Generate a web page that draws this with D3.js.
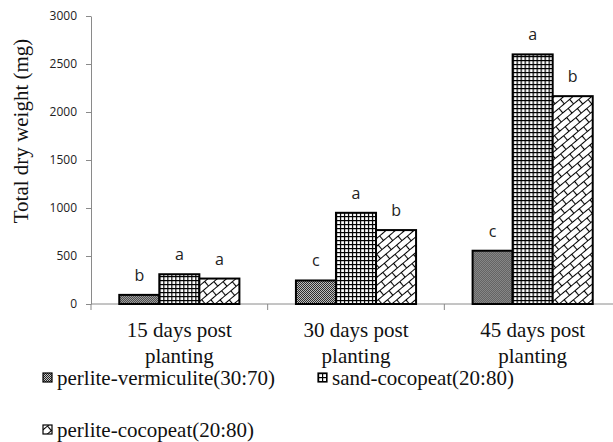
<!DOCTYPE html>
<html>
<head>
<meta charset="utf-8">
<script src="https://cdn.jsdelivr.net/npm/d3@7"></script>
</head>
<body style="margin:0">
<svg id="chart" width="613" height="442"></svg>
<script>
// data
let categories = ["15 days post planting", "30 days post planting", "45 days post planting"]
let catLines = [["15 days post", "planting"], ["30 days post", "planting"], ["45 days post", "planting"]]
let series = ["perlite-vermiculite(30:70)", "sand-cocopeat(20:80)", "perlite-cocopeat(20:80)"]
let values = [
  [95, 245, 555],    // perlite-vermiculite
  [310, 950, 2600],  // sand-cocopeat
  [265, 770, 2165]   // perlite-cocopeat
]
let letters = [
  ["b", "c", "c"],
  ["a", "a", "a"],
  ["a", "b", "b"]
]
let yTicks = [0, 500, 1000, 1500, 2000, 2500, 3000]

let serif = '"Liberation Serif"'
let sans = '"Open Sans"'

let svg = d3.select("#chart")
let defs = svg.append("defs")

// fill patterns
let p1 = defs.append("pattern").attr("id", "pat0")
  .attr("patternUnits", "userSpaceOnUse").attr("width", 2).attr("height", 2)
p1.append("rect").attr("width", 2).attr("height", 2).attr("fill", "#c8c8c8")
p1.append("rect").attr("width", 1).attr("height", 1).attr("fill", "#222")
p1.append("rect").attr("x", 1).attr("y", 1).attr("width", 1).attr("height", 1).attr("fill", "#222")

let p2 = defs.append("pattern").attr("id", "pat1")
  .attr("patternUnits", "userSpaceOnUse").attr("width", 4).attr("height", 4)
p2.append("rect").attr("width", 4).attr("height", 4).attr("fill", "#fff")
p2.append("rect").attr("width", 1.2).attr("height", 4).attr("fill", "#000")
p2.append("rect").attr("width", 4).attr("height", 1.2).attr("fill", "#000")

let p3 = defs.append("pattern").attr("id", "pat2")
  .attr("patternUnits", "userSpaceOnUse").attr("width", 14).attr("height", 12)
  .attr("patternTransform", "rotate(-40)")
p3.append("rect").attr("width", 14).attr("height", 12).attr("fill", "#fff")
p3.append("path")
  .attr("d", "M0,0.5H14M0,6.5H14M3.5,0V6.5M10.5,6.5V12")
  .attr("stroke", "#000").attr("stroke-width", 1.1).attr("fill", "none")

let fills = ["url(#pat0)", "url(#pat1)", "url(#pat2)"]

// scales
let x0 = d3.scaleBand().domain(categories).range([91, 621]).paddingInner(0.32).paddingOuter(0.16)
let x1 = d3.scaleBand().domain(d3.range(series.length)).range([0, x0.bandwidth()])
let y = d3.scaleLinear().domain([0, 3000]).range([304, 16])

// y axis
let yAxis = svg.append("g").attr("transform", "translate(91,0)")
  .call(d3.axisLeft(y).tickValues(yTicks).tickFormat(d3.format("d"))
    .tickSize(5).tickSizeOuter(0).tickPadding(9))
yAxis.attr("font-family", null).attr("font-size", null)
yAxis.select(".domain").attr("stroke", "#8a8a8a")
yAxis.selectAll(".tick line").attr("stroke", "#8a8a8a")
yAxis.selectAll(".tick text")
  .style("font-family", sans).style("font-size", "12px").attr("fill", "#222")

// x axis line and boundary ticks
let step = x0.step()
let bounds = d3.range(categories.length + 1).map(i => x0.range()[0] + i * step)
svg.append("line").attr("x1", 91).attr("x2", 621).attr("y1", y(0)).attr("y2", y(0))
  .attr("stroke", "#8a8a8a")
svg.append("g").selectAll("line").data(bounds).enter().append("line")
  .attr("x1", d => d).attr("x2", d => d).attr("y1", y(0)).attr("y2", y(0) + 6)
  .attr("stroke", "#8a8a8a")

// bars
let groups = svg.append("g").selectAll("g").data(categories).enter().append("g")
  .attr("transform", d => `translate(${x0(d)},0)`)

groups.each(function (c, ci) {
  let g = d3.select(this)
  series.forEach((s, si) => {
    let v = values[si][ci]
    g.append("rect")
      .attr("x", x1(si)).attr("width", x1.bandwidth())
      .attr("y", y(v)).attr("height", y(0) - y(v))
      .attr("fill", fills[si]).attr("stroke", "#000").attr("stroke-width", 2)
    g.append("text")
      .attr("x", x1(si) + x1.bandwidth() / 2).attr("y", y(v) - 14)
      .attr("text-anchor", "middle")
      .style("font-family", sans).style("font-size", "16px")
      .attr("fill", "#222")
      .text(letters[si][ci])
  })
})

// category labels, one text per line
let catText = svg.append("g").selectAll("g").data(categories).enter().append("g")
catText.each(function (d, i) {
  let cx = x0(d) + x0.bandwidth() / 2
  d3.select(this).selectAll("text").data(catLines[i]).enter().append("text")
    .attr("x", cx).attr("y", (t, j) => 337 + j * 26)
    .attr("text-anchor", "middle")
    .style("font-family", serif).style("font-size", "21px")
    .attr("fill", "#111")
    .text(t => t)
})

// y title
svg.append("text")
  .attr("transform", "translate(28,131) rotate(-90)")
  .attr("text-anchor", "middle")
  .style("font-family", serif).style("font-size", "21px")
  .attr("fill", "#111")
  .text("Total dry weight (mg)")

// legend
let legendPos = [[43, 385], [318, 385], [43, 437]]
let legend = svg.append("g").selectAll("g").data(series).enter().append("g")
  .attr("transform", (d, i) => `translate(${legendPos[i][0]},${legendPos[i][1]})`)
legend.append("rect").attr("x", 0).attr("y", -12).attr("width", 9).attr("height", 9)
  .attr("fill", (d, i) => fills[i]).attr("stroke", "#000").attr("stroke-width", 1.2)
legend.append("text").attr("x", 14).attr("y", 0)
  .style("font-family", serif).style("font-size", "21px").attr("fill", "#111")
  .text(d => d)
</script>
</body>
</html>
